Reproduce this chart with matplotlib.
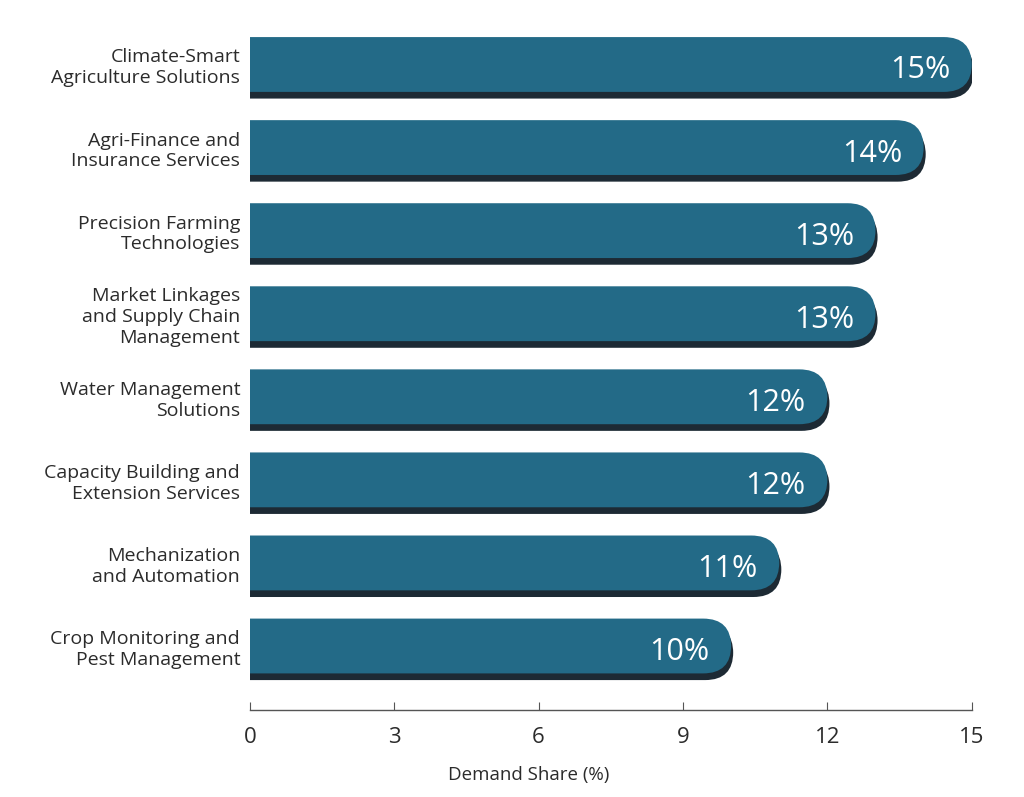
import matplotlib
matplotlib.use("Agg")
import matplotlib.pyplot as plt
from matplotlib.patches import FancyBboxPatch
import matplotlib.patheffects as pe

# data
categories = [
    "Climate-Smart\nAgriculture Solutions",
    "Agri-Finance and\nInsurance Services",
    "Precision Farming\nTechnologies",
    "Market Linkages\nand Supply Chain\nManagement",
    "Water Management\nSolutions",
    "Capacity Building and\nExtension Services",
    "Mechanization\nand Automation",
    "Crop Monitoring and\nPest Management",
]
shares = [15, 14, 13, 13, 12, 12, 11, 10]
xticks = [0, 3, 6, 9, 12, 15]

bar_color = "#236a87"
shadow_color = "#1d2a34"
text_color = "#2b2b2b"

plt.rcParams["font.family"] = ["Open Sans", "DejaVu Sans"]

fig = plt.figure(figsize=(10.24, 7.97), dpi=100)
ax = fig.add_axes([0.244, 0.1092, 0.705, 0.862])
ax.set_xlim(0, 15)
ax.set_ylim(7.77, -0.5)

# aspect so that rounded corners look circular in pixels
x0, y0 = ax.transData.transform((0, 0))
x1, y1 = ax.transData.transform((1, 1))
px_x = abs(x1 - x0)
px_y = abs(y1 - y0)
radius = 28 / px_x
aspect = px_x / px_y

bar_h = 0.66
for i, v in enumerate(shares):
    box = FancyBboxPatch(
        (-2, i - bar_h / 2), v + 2, bar_h,
        boxstyle=f"round,pad=0,rounding_size={radius}",
        mutation_aspect=aspect,
        facecolor=bar_color, edgecolor="none",
        path_effects=[pe.SimplePatchShadow(offset=(1.5, -4.8), shadow_rgbFace=shadow_color, alpha=1.0), pe.Normal()],
    )
    ax.add_patch(box)
    ax.text(v - 0.45, i + 0.03, f"{v}%", ha="right", va="center_baseline", color="white", fontsize=22)

ax.set_yticks(range(len(categories)))
ax.set_yticklabels(categories, fontsize=14, color=text_color, linespacing=1.2)
ax.tick_params(axis="y", length=0, pad=7)

ax.set_xticks(xticks)
ax.set_xticklabels([str(t) for t in xticks], fontsize=16, color=text_color)
ax.tick_params(axis="x", direction="in", length=6, color="#555555", pad=12)
ax.set_xlabel("Demand Share (%)", fontsize=13.5, color=text_color)
ax.xaxis.set_label_coords(0.386, -0.082)

for s in ["top", "right", "left"]:
    ax.spines[s].set_visible(False)
ax.spines["bottom"].set_color("#555555")
ax.spines["bottom"].set_linewidth(1)

fig.savefig("out.png", dpi=100)
